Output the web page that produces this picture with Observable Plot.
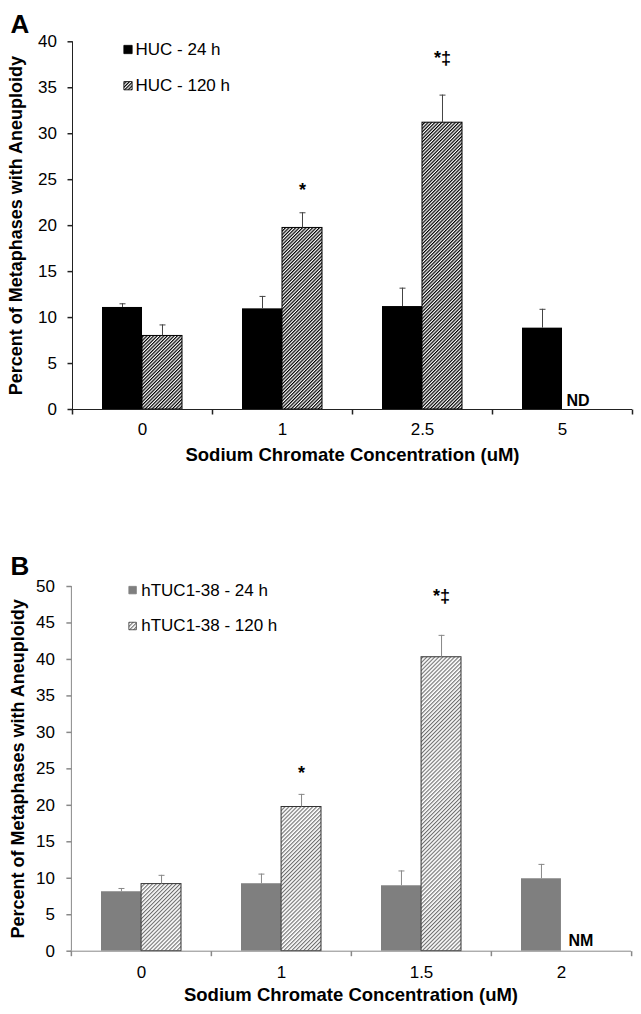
<!DOCTYPE html>
<html>
<head>
<meta charset="utf-8">
<script src="https://cdn.jsdelivr.net/npm/d3@7"></script>
<script src="https://cdn.jsdelivr.net/npm/@observablehq/plot@0.6"></script>
<style>
  body { margin: 0; background: #fff; }
  #chart svg { display: block; }
</style>
</head>
<body>
<svg width="0" height="0" style="position:absolute">
  <defs>
    <pattern id="hatchA" patternUnits="userSpaceOnUse" width="2.4" height="2.4" patternTransform="rotate(45)">
      <rect width="2.4" height="2.4" fill="#fff"></rect>
      <rect x="0" y="0" width="1.2" height="2.4" fill="#000"></rect>
    </pattern>
    <pattern id="hatchB" patternUnits="userSpaceOnUse" width="2.8" height="2.8" patternTransform="rotate(45)">
      <rect width="2.8" height="2.8" fill="#fff"></rect>
      <rect x="0" y="0" width="1.1" height="2.8" fill="#6e6e6e"></rect>
    </pattern>
  </defs>
</svg>
<div id="chart"></div>
<script>
// ---------- Panel A data ----------
const catsA = ["0", "1", "2.5", "5"];
const seriesA = ["HUC - 24 h", "HUC - 120 h"];
const huc24 = [11.1, 10.95, 11.2, 8.85];
const huc24Err = [0.4, 1.35, 2.0, 2.05];
const huc120 = [8.0, 19.75, 31.2, null];
const huc120Err = [1.2, 1.65, 3.0, null];
const sigA = ["", "*", "*‡", ""];
const sigAPos = [null, 23.8, 38.2, null];
const missingA = "ND";
const yTicksA = [0, 5, 10, 15, 20, 25, 30, 35, 40];

// ---------- Panel B data ----------
const catsB = ["0", "1", "1.5", "2"];
const seriesB = ["hTUC1-38 - 24 h", "hTUC1-38 - 120 h"];
const tuc24 = [8.15, 9.25, 8.97, 9.93];
const tuc24Err = [0.45, 1.32, 2.03, 1.97];
const tuc120 = [9.2, 19.77, 40.3, null];
const tuc120Err = [1.2, 1.73, 3.0, null];
const sigB = ["", "*", "*‡", ""];
const sigBPos = [null, 24.4, 48.7, null];
const missingB = "NM";
const yTicksB = [0, 5, 10, 15, 20, 25, 30, 35, 40, 45, 50];

const xTitle = "Sodium Chromate Concentration (uM)";
const yTitle = "Percent of Metaphases with Aneuploidy";

const FONT = "'Liberation Sans', Arial, Helvetica, sans-serif";

function panel(o) {
  const n = o.cats.length;
  const pIn = 0.4286, pOut = 0.2143;
  const innerW = o.width - o.ml - o.mr;
  const step = innerW / (n - pIn + 2 * pOut);
  const bw = step * (1 - pIn);
  const half = bw / 2, q = bw / 4;
  const edge = bw / 2 + pOut * step;
  const ymax = o.yticks[o.yticks.length - 1];

  const rows24 = o.cats.map((c, i) => ({cat: c, v: o.v24[i], e: o.e24[i]}));
  const rows120 = o.cats.map((c, i) => ({cat: c, v: o.v120[i], e: o.e120[i], sig: o.sig[i], sp: o.sigPos[i]}))
    .filter(d => d.v != null);
  const sigRows = rows120.filter(d => d.sig);
  const missing = o.cats.filter((c, i) => o.v120[i] == null);

  const vTick = {draw(ctx) { ctx.moveTo(0, 0); ctx.lineTo(0, 5); }};
  const hTick = {draw(ctx) { ctx.moveTo(-5, 0); ctx.lineTo(0, 0); }};
  const cap = {draw(ctx) { ctx.moveTo(-3, 0); ctx.lineTo(3, 0); }};
  const sq = (s) => ({draw(ctx) { ctx.rect(-s / 2, -s / 2, s, s); }});

  const fills = [o.c24, `url(#${o.hatch})`];
  const strokes = [o.c24Stroke, o.hatchStroke];

  const legendMarks = [];
  o.series.forEach((name, i) => {
    legendMarks.push(
      Plot.dot([name], {x: () => o.cats[0], y: () => ymax, dx: o.legDx, dy: o.legDy[i],
        symbol: sq(o.legSide), fill: fills[i], stroke: strokes[i], strokeWidth: 0.8}),
      Plot.text([name], {x: () => o.cats[0], y: () => ymax, dx: o.legTextDx, dy: o.legDy[i],
        text: d => d, textAnchor: "start", lineAnchor: "middle", fontSize: 17, fill: "#000"})
    );
  });

  return Plot.plot({
    width: o.width,
    height: o.height,
    marginLeft: o.ml,
    marginRight: o.mr,
    marginTop: o.mt,
    marginBottom: o.mb,
    style: {fontFamily: FONT, fontSize: "17px", color: "#000", background: "#fff", overflow: "visible"},
    x: {type: "band", domain: o.cats, paddingInner: pIn, paddingOuter: pOut, tickSize: 0, tickPadding: o.xPad, label: null},
    y: {domain: [0, ymax], ticks: o.yticks, tickSize: 0, tickPadding: 15.5, label: null},
    marks: [
      Plot.barY(rows24, {x: "cat", y: "v", fill: o.c24, insetRight: half}),
      Plot.barY(rows120, {x: "cat", y: "v", fill: `url(#${o.hatch})`, stroke: o.hatchStroke, strokeWidth: 1, insetLeft: half}),
      Plot.ruleX(rows24, {x: "cat", y1: "v", y2: d => d.v + d.e, dx: -q, stroke: o.err, strokeWidth: 1}),
      Plot.dot(rows24, {x: "cat", y: d => d.v + d.e, dx: -q, symbol: cap, stroke: o.err, fill: "none", strokeWidth: 1}),
      Plot.ruleX(rows120, {x: "cat", y1: "v", y2: d => d.v + d.e, dx: q, stroke: o.err, strokeWidth: 1}),
      Plot.dot(rows120, {x: "cat", y: d => d.v + d.e, dx: q, symbol: cap, stroke: o.err, fill: "none", strokeWidth: 1}),
      // axes lines & ticks
      Plot.ruleY([0], {stroke: o.axis, strokeWidth: 1}),
      Plot.ruleX([o.cats[0]], {x: d => d, y1: 0, y2: ymax, dx: -edge, stroke: o.axis, strokeWidth: 1}),
      Plot.dot(o.yticks, {x: () => o.cats[0], y: d => d, dx: -edge, symbol: hTick, stroke: o.axis, fill: "none"}),
      Plot.dot(o.cats, {x: d => d, y: () => 0, dx: -edge, symbol: vTick, stroke: o.axis, fill: "none"}),
      Plot.dot([o.cats[n - 1]], {x: d => d, y: () => 0, dx: edge, symbol: vTick, stroke: o.axis, fill: "none"}),
      // significance markers
      Plot.text(sigRows, {x: "cat", y: "sp", text: "sig", dx: q, fontWeight: "bold", fontSize: 18, lineAnchor: "middle", fill: "#000"}),
      Plot.text(missing, {x: d => d, y: () => 0, text: () => o.missingLabel, dx: o.missDx, dy: o.missDy,
        textAnchor: "start", lineAnchor: "bottom", fontWeight: "bold", fontSize: 16, fill: "#000"}),
      // legend
      ...legendMarks,
      // titles
      Plot.text([yTitle], {frameAnchor: "left", rotate: -90, dx: o.yTitleDx, textAnchor: "middle", lineAnchor: "middle",
        fontWeight: "bold", fontSize: 18, fill: "#000"}),
      Plot.text([xTitle], {frameAnchor: "bottom", dy: o.xTitleDy, textAnchor: "middle", lineAnchor: "bottom",
        fontWeight: "bold", fontSize: 18.5, fill: "#000"}),
      Plot.text([o.letter], {frameAnchor: "top-left", dx: 10 - o.ml, dy: o.letterDy, textAnchor: "start",
        lineAnchor: "bottom", fontWeight: "bold", fontSize: 26, fill: "#000"})
    ]
  });
}

const chart = document.getElementById("chart");

chart.appendChild(panel({
  cats: catsA, series: seriesA, v24: huc24, e24: huc24Err, v120: huc120, e120: huc120Err,
  sig: sigA, sigPos: sigAPos, missingLabel: missingA, yticks: yTicksA,
  width: 641, height: 505, ml: 72, mr: 9, mt: 41.3, mb: 96,
  xPad: 13, xTitleDy: 51, yTitleDx: -56, letter: "A", letterDy: 32 - 41.3,
  c24: "#000", c24Stroke: "#000", hatch: "hatchA", hatchStroke: "#000",
  err: "#444", axis: "#222",
  legDx: -14.5, legDy: [7.7, 43.9], legTextDx: -7, legSide: 8.3,
  missDx: 4, missDy: -4
}));

chart.appendChild(panel({
  cats: catsB, series: seriesB, v24: tuc24, e24: tuc24Err, v120: tuc120, e120: tuc120Err,
  sig: sigB, sigPos: sigBPos, missingLabel: missingB, yticks: yTicksB,
  width: 641, height: 509, ml: 70, mr: 10, mt: 81, mb: 63.3,
  xPad: 15, xTitleDy: 50, yTitleDx: -52.5, letter: "B", letterDy: 69 - 81,
  c24: "#7f7f7f", c24Stroke: "#7f7f7f", hatch: "hatchB", hatchStroke: "#333",
  err: "#888", axis: "#888",
  legDx: -8.9, legDy: [3.6, 39.5], legTextDx: -0.25, legSide: 7.5,
  missDx: 7, missDy: -5.5
}));
</script>
</body>
</html>
